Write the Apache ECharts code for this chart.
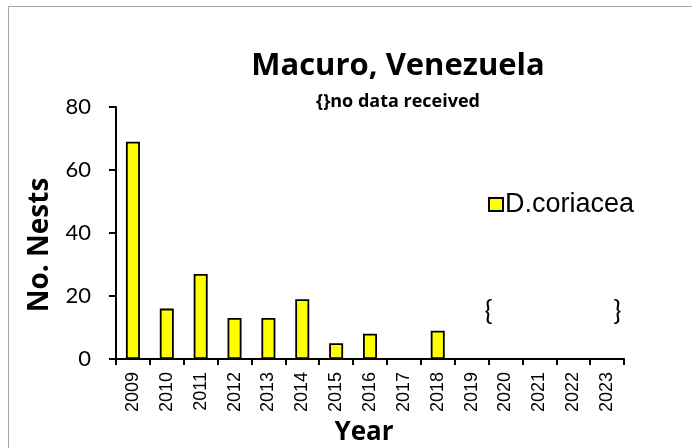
<!DOCTYPE html>
<html>
<head>
<meta charset="utf-8">
<script src="https://cdn.jsdelivr.net/npm/echarts@6/dist/echarts.min.js"></script>
<style>
  html, body { margin: 0; padding: 0; background: #fff; }
  #chart { width: 692px; height: 448px; }
</style>
</head>
<body>
<div id="chart"></div>
<script>
// Leatherback nesting counts at Macuro, Venezuela
const years = ['2009', '2010', '2011', '2012', '2013', '2014', '2015', '2016',
               '2017', '2018', '2019', '2020', '2021', '2022', '2023'];
const nests = [69, 16, 27, 13, 13, 19, 5, 8, 0, 9, null, null, null, null, null];
const yTicks = { min: 0, max: 80, interval: 20 };
const seriesName = 'D.coriacea';
// "{ ... }" bracket spans the seasons with no data received
const gapStart = { left: '2019', right: '2020', value: 15 };
const gapEnd = { cat: '2023', value: 15 };

const chart = echarts.init(document.getElementById('chart'), null, { renderer: 'canvas' });

const boldFont = '"Open Sans", Lato, sans-serif';
const numFont = 'Lato, "Open Sans", sans-serif';
const arialFont = '"Liberation Sans", Arial, sans-serif';

chart.setOption({
  animation: false,
  backgroundColor: '#ffffff',
  title: [
    {
      text: 'Macuro, Venezuela',
      left: 393, top: 46, textAlign: 'center',
      textStyle: { fontFamily: boldFont, fontWeight: 'bold', fontSize: 31, color: '#000' }
    },
    {
      text: '{}no data received',
      left: 393, top: 88, textAlign: 'center',
      textStyle: { fontFamily: boldFont, fontWeight: 'bold', fontSize: 18, color: '#000' }
    }
  ],
  legend: {
    left: 483, top: 186,
    itemWidth: 14, itemHeight: 13, itemGap: 4,
    icon: 'rect',
    textStyle: { fontFamily: arialFont, fontSize: 27, color: '#000', padding: [0, 0, 0, -3] },
    data: [seriesName]
  },
  grid: { left: 116, right: 68, top: 107, bottom: 89, containLabel: false, outerBoundsMode: 'none' },
  xAxis: {
    type: 'category',
    data: years,
    boundaryGap: true,
    name: 'Year',
    nameLocation: 'middle',
    nameGap: 54,
    nameTextStyle: { fontFamily: boldFont, fontWeight: 'bold', fontSize: 26, color: '#000', padding: [0, 12, 0, 0] },
    axisLine: { lineStyle: { color: '#000', width: 2 } },
    axisTick: { show: true, alignWithLabel: false, length: 6, lineStyle: { color: '#000', width: 2 } },
    axisLabel: { rotate: 90, fontFamily: arialFont, fontSize: 18, color: '#000', margin: 13, interval: 0 },
    splitLine: { show: false }
  },
  yAxis: {
    type: 'value',
    min: yTicks.min, max: yTicks.max, interval: yTicks.interval,
    name: 'No. Nests',
    nameLocation: 'middle',
    nameGap: 62,
    nameTextStyle: { fontFamily: boldFont, fontWeight: 'bold', fontSize: 28, color: '#000', padding: [0, 24, 0, 0] },
    axisLine: { show: true, lineStyle: { color: '#000', width: 2 } },
    axisTick: { show: true, length: 7, lineStyle: { color: '#000', width: 2 } },
    axisLabel: { fontFamily: numFont, fontSize: 22, color: '#000', margin: 25 },
    splitLine: { show: false }
  },
  series: [{
    name: seriesName,
    type: 'bar',
    data: nests,
    barWidth: 14,
    itemStyle: { color: '#ffff00', borderColor: '#000', borderWidth: 1.8 }
  }]
});

// Bracket marks placed in data coordinates through the axes
function px(cat, val) {
  return chart.convertToPixel({ gridIndex: 0 }, [cat, val]);
}
const a = px(gapStart.left, gapStart.value);
const b = px(gapStart.right, gapStart.value);
const c = px(gapEnd.cat, gapEnd.value);
const catStep = b[0] - a[0];
const braceStyle = { fontFamily: numFont, fontSize: 27, fill: '#000', textAlign: 'center', textVerticalAlign: 'middle' };

chart.setOption({
  graphic: [
    {
      type: 'rect', silent: true, z: -1,
      shape: { x: 8.5, y: 6.5, width: 700, height: 460 },
      style: { fill: 'none', stroke: '#a6a6a6', lineWidth: 1 }
    },
    {
      type: 'text', silent: true,
      x: (a[0] + b[0]) / 2, y: a[1],
      style: Object.assign({ text: '{' }, braceStyle)
    },
    {
      type: 'text', silent: true,
      x: c[0] + catStep * 0.3, y: c[1],
      style: Object.assign({ text: '}' }, braceStyle)
    }
  ]
});
</script>
</body>
</html>
